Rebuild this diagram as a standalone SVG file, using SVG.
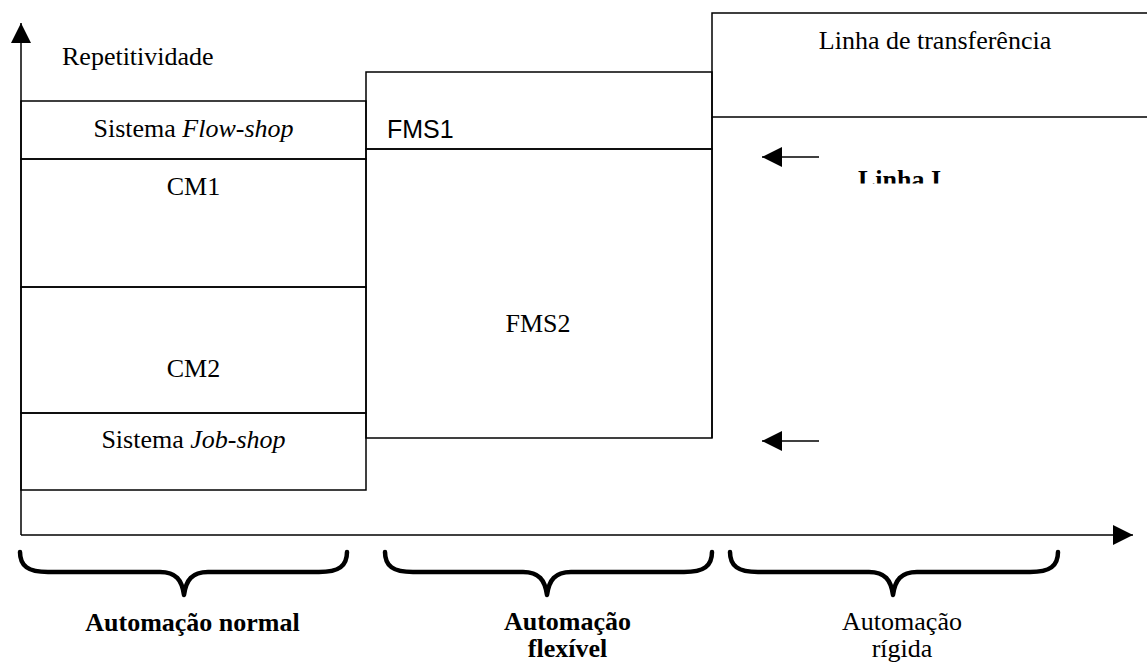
<svg xmlns="http://www.w3.org/2000/svg" width="1147" height="665" viewBox="0 0 1147 665">
  <style>
    .box { fill: none; stroke: #000; stroke-width: 1.5; }
    .ln { stroke: #000; stroke-width: 1.5; fill: none; }
    .brace { stroke: #000; stroke-width: 4.5; fill: none; stroke-linecap: round; stroke-linejoin: round; }
    .serif { font-family: "Liberation Serif", "Times New Roman", serif; font-size: 26px; fill: #000; }
    .sans { font-family: "Liberation Sans", Arial, sans-serif; font-size: 25px; fill: #000; }
    .bold { font-weight: bold; }
    .it { font-style: italic; }
    .mid { text-anchor: middle; }
  </style>
  <defs>
    <marker id="head" viewBox="0 0 20 20" refX="20" refY="10" markerWidth="20" markerHeight="20" markerUnits="userSpaceOnUse" orient="auto">
      <path d="M0,0 L20,10 L0,20 Z" fill="#000"/>
    </marker>
    <clipPath id="clipLinhaI">
      <rect x="800" y="150" width="200" height="33.5"/>
    </clipPath>
  </defs>

  <rect width="1147" height="665" fill="#fff"/>

  <text class="serif" x="62" y="65">Repetitividade</text>

  <!-- left column: conventional systems -->
  <g id="flow-shop">
    <rect class="box" x="21" y="101" width="345" height="58"/>
    <text class="serif mid" x="193.5" y="137">Sistema <tspan class="it">Flow-shop</tspan></text>
  </g>
  <g id="cm1">
    <rect class="box" x="21" y="159" width="345" height="128"/>
    <text class="serif mid" x="193.5" y="195">CM1</text>
  </g>
  <g id="cm2">
    <rect class="box" x="21" y="287" width="345" height="126"/>
    <text class="serif mid" x="193.5" y="377">CM2</text>
  </g>
  <g id="job-shop">
    <rect class="box" x="21" y="413" width="345" height="77"/>
    <text class="serif mid" x="193.5" y="448">Sistema <tspan class="it">Job-shop</tspan></text>
  </g>

  <!-- middle column: flexible manufacturing -->
  <g id="fms1">
    <rect class="box" x="366" y="72" width="346" height="77"/>
    <text class="sans" x="387" y="138">FMS1</text>
  </g>
  <g id="fms2">
    <rect class="box" x="366" y="149" width="346" height="289"/>
    <text class="serif mid" x="538" y="332">FMS2</text>
  </g>

  <!-- right column: rigid automation -->
  <g id="linha-transferencia">
    <path class="ln" d="M1148,13 L712,13 L712,117 L1148,117"/>
    <text class="serif mid" x="935" y="49">Linha de transferência</text>
  </g>
  <g id="linha-i">
    <path class="ln" d="M712,117 L712,438"/>
    <text class="serif bold" x="858" y="187.5" clip-path="url(#clipLinhaI)">Linha I</text>
  </g>

  <!-- axes and pointers -->
  <g id="connectors">
    <path class="ln" d="M21,535 L21,23" marker-end="url(#head)"/>
    <path class="ln" d="M21,535 L1133,535" marker-end="url(#head)"/>
    <path class="ln" d="M819,157 L762,157" marker-end="url(#head)"/>
    <path class="ln" d="M819,441 L762,441" marker-end="url(#head)"/>
  </g>

  <!-- category braces -->
  <g id="braces">
    <path class="brace" d="M20,552 C20,566 28,572 48,572 L160,572 C176,572 182,580 184,595 C186,580 192,572 208,572 L319,572 C339,572 347,566 347,552"/>
    <path class="brace" d="M385,552 C385,566 393,572 413,572 L523,572 C539,572 545,580 547,595 C549,580 555,572 571,572 L684,572 C704,572 712,566 712,552"/>
    <path class="brace" d="M730,552 C730,566 738,572 758,572 L869,572 C885,572 891,580 893,595 C895,580 901,572 917,572 L1030,572 C1050,572 1058,566 1058,552"/>
  </g>

  <!-- category labels -->
  <g id="automacao-normal">
    <text class="serif bold mid" x="192.5" y="631">Automação normal</text>
  </g>
  <g id="automacao-flexivel">
    <text class="serif bold mid" x="567.5" y="630">Automação</text>
    <text class="serif bold mid" x="567.5" y="657">flexível</text>
  </g>
  <g id="automacao-rigida">
    <text class="serif mid" x="902" y="630">Automação</text>
    <text class="serif mid" x="902" y="657">rígida</text>
  </g>
</svg>
